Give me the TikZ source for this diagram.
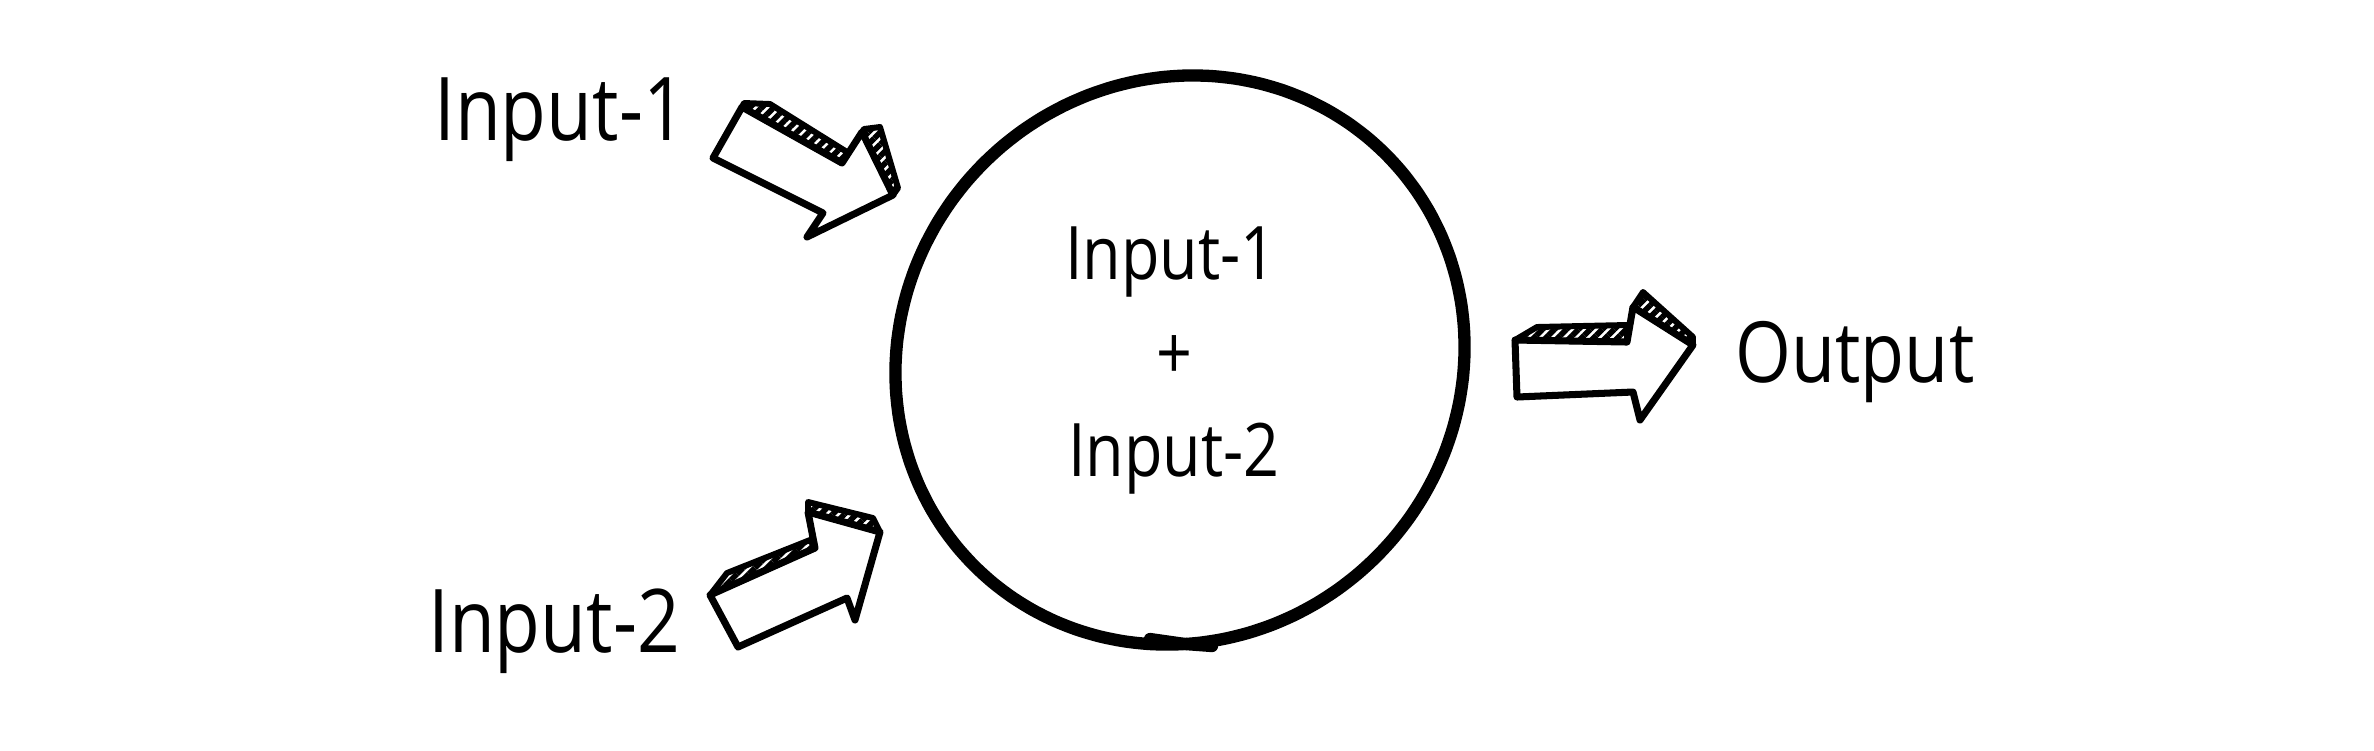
\documentclass[tikz,border=0pt]{standalone}
\usepackage{fontspec}
\newfontfamily\handfont[FakeStretch=0.85]{Open Sans}
\usepackage{tikz}
\usetikzlibrary{patterns.meta}
\tikzset{
  sumBlob/.style={line width=3.5pt, line join=round, line cap=round},
  blockFace/.style={draw, fill=white, line width=2pt, line join=round},
  blockTop/.style={draw, line width=1.7pt, line join=round, pattern={Lines[angle=45,distance=2.4pt,line width=1.6pt]}},
  bigLabel/.style={anchor=base, inner sep=0pt, font=\handfont\fontsize{25}{30}\selectfont},
  smallLabel/.style={anchor=base, inner sep=0pt, font=\handfont\fontsize{21}{24}\selectfont}
}
\begin{document}
\begin{tikzpicture}[x=0.01cm, y=-0.01cm]
  \useasboundingbox (0,0) rectangle (2374,750);

  \draw[sumBlob] plot[smooth cycle, domain=0:355, samples=72, variable=\t]
    ({1180+291*cos(\t)*cos(135)-278*sin(\t)*sin(135)}, {360+291*cos(\t)*sin(135)+278*sin(\t)*cos(135)});
  \draw[sumBlob] (1150,639) -- (1185,644) -- (1212,646);

  \node[smallLabel] (sumTop) at (1171,279) {Input-1};
  \node[smallLabel, anchor=center] (sumPlus) at (1174,358) {+};
  \node[smallLabel] (sumBottom) at (1174,476) {Input-2};

  \node[bigLabel] (inOne) at (560,140) {Input-1};
  \node[bigLabel] (inTwo) at (554,652) {Input-2};
  \node[bigLabel, font=\handfont\fontsize{24}{30}\selectfont] (outLabel) at (1855,382) {Output};

  \draw[blockFace] (742,107) -- (842,163) -- (862,132) -- (893,195) -- (807,237) -- (823,213) -- (713,158) -- cycle;
  \draw[blockTop] (742,107) -- (744,103) -- (770,104) -- (847,152) -- (842,163) -- cycle;
  \draw[blockTop] (862,132) -- (864,129) -- (880,127) -- (898,188) -- (893,195) -- cycle;

  \draw[blockFace] (710,595) -- (815,548) -- (808,512) -- (880,532) -- (855,620) -- (847,598) -- (738,647) -- cycle;
  \draw[blockTop] (710,595) -- (727,573) -- (810,540) -- (815,548) -- cycle;
  \draw[blockTop] (808,512) -- (808,502) -- (873,518) -- (880,532) -- cycle;

  \draw[blockFace] (1515,340) -- (1627,342) -- (1633,307) -- (1693,345) -- (1640,420) -- (1633,392) -- (1517,397) -- cycle;
  \draw[blockTop] (1515,340) -- (1537,327) -- (1627,325) -- (1627,342) -- cycle;
  \draw[blockTop] (1633,307) -- (1643,292) -- (1693,337) -- (1693,345) -- cycle;
\end{tikzpicture}
\end{document}
